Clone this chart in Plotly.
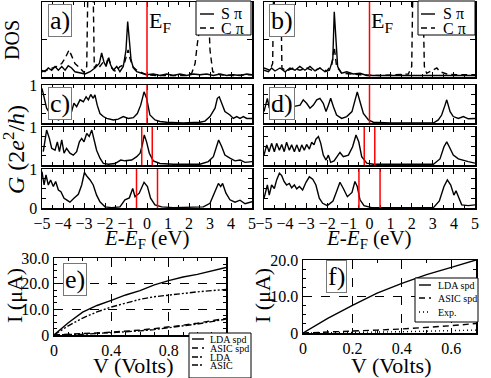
import plotly.graph_objects as go

W, H = 491, 378
SERIF = "Liberation Serif, Times New Roman, serif"

# ---------------- data ----------------
# DOS, panel a)
E_a_S = [-5.0, -4.86, -4.70, -4.54, -4.38, -4.22, -4.06, -3.90, -3.75, -3.59, -3.43, -3.19, -2.95, -2.71,
         -2.48, -2.27, -2.16, -2.05, -1.95, -1.84, -1.73, -1.60, -1.44, -1.29, -1.13, -1.00, -0.92, -0.84,
         -0.76, -0.65, -0.49, -0.25, -0.02, 0.30, 0.62, 0.94, 1.25, 1.57, 1.89, 2.21, 2.52, 2.84, 3.16,
         3.48, 3.79, 4.11, 4.43, 4.75, 5.0]
D_a_S = [0.09, 0.07, 0.12, 0.09, 0.14, 0.09, 0.14, 0.09, 0.15, 0.12, 0.07, 0.05, 0.04, 0.07,
         0.12, 0.18, 0.32, 0.20, 0.14, 0.25, 0.16, 0.09, 0.14, 0.07, 0.14, 0.36, 0.74, 0.49,
         0.23, 0.12, 0.07, 0.05, 0.03, 0.04, 0.02, 0.04, 0.02, 0.04, 0.02, 0.04, 0.03, 0.04, 0.02,
         0.04, 0.02, 0.03, 0.02, 0.04, 0.03]
E_a_C = [-5.0, -4.78, -4.54, -4.30, -4.06, -3.90, -3.71, -3.59, -3.43, -3.19, -3.0, -2.87, -2.81, -2.57,
         -2.51, -2.37, -2.24, -2.08, -1.95, -1.84, -1.68, -1.48, -1.29, -1.10, -0.97, -0.90, -0.81,
         -0.68, -0.49, -0.25, -0.02, 0.46, 1.25, 1.89, 2.13, 2.29, 2.40, 2.52, 2.63, 2.87, 3.0, 3.13,
         3.48, 4.11, 5.0]
D_a_C = [0.07, 0.09, 0.12, 0.14, 0.18, 0.25, 0.36, 0.29, 0.18, 0.12, 0.06, 0.14, 1.3, 1.3,
         0.12, 0.18, 0.14, 0.20, 0.16, 0.27, 0.12, 0.07, 0.14, 0.16, 0.27, 0.36, 0.25,
         0.14, 0.09, 0.06, 0.03, 0.02, 0.02, 0.02, 0.05, 0.18, 0.45, 0.67, 1.3, 1.3, 0.36, 0.07,
         0.03, 0.02, 0.03]

# DOS, panel b)
E_b_S = [-5.0, -4.79, -4.64, -4.48, -4.24, -4.00, -3.77, -3.53, -3.30, -3.06, -2.82, -2.58, -2.35, -2.11,
         -1.90, -1.74, -1.67, -1.59, -1.51, -1.32, -1.08, -0.77, -0.45, -0.13, 0.50, 1.76, 2.71, 3.34,
         4.13, 5.0]
D_b_S = [0.09, 0.07, 0.12, 0.08, 0.12, 0.07, 0.12, 0.09, 0.14, 0.09, 0.14, 0.08, 0.12, 0.07,
         0.09, 0.23, 0.87, 0.49, 0.14, 0.05, 0.07, 0.04, 0.05, 0.02, 0.02, 0.02, 0.03, 0.02,
         0.02, 0.02]
E_b_C = [-5.0, -4.72, -4.59, -4.54, -4.21, -4.15, -3.93, -3.61, -3.30, -2.98, -2.66, -2.35, -2.03, -1.79,
         -1.67, -1.56, -1.32, -0.92, -0.45, 0.50, 1.45, 1.84, 2.00, 2.06, 2.52, 2.60, 2.71, 2.95,
         3.19, 3.34, 3.66, 4.13, 5.0]
D_b_C = [0.12, 0.09, 0.18, 1.3, 1.3, 0.12, 0.08, 0.12, 0.09, 0.12, 0.08, 0.12, 0.08, 0.16,
         0.40, 0.14, 0.05, 0.04, 0.03, 0.02, 0.03, 0.04, 0.14, 1.3, 1.3, 0.14, 0.05, 0.09,
         0.12, 0.07, 0.04, 0.03, 0.03]

# Transmission, panel c) (three bias values)
E_c1 = [-5.0, -4.90, -4.78, -4.62, -4.46, -4.22, -4.06, -3.83, -3.59, -3.48, -3.35, -3.19, -3.03, -2.90,
        -2.79, -2.68, -2.56, -2.48, -2.37, -2.24, -2.08, -1.92, -1.60, -1.37, -1.13, -0.89, -0.65,
        -0.46, -0.30, -0.14, -0.02, 0.14, 0.38, 0.62, 0.94, 1.73, 2.52, 2.76, 3.00, 3.24, 3.35, 3.44,
        3.56, 3.71, 3.95, 4.11, 4.27, 4.43, 4.59, 4.75, 5.0]
G_c1 = [0.91, 0.65, 0.39, 0.25, 0.17, 0.08, 0.12, 0.21, 0.30, 0.52, 0.43, 0.61, 0.56, 0.69,
        0.61, 0.75, 0.65, 0.74, 0.47, 0.25, 0.17, 0.12, 0.08, 0.10, 0.17, 0.12, 0.14,
        0.25, 0.47, 0.82, 0.65, 0.21, 0.08, 0.04, 0.02, 0.0, 0.02, 0.05, 0.17, 0.39, 0.65, 0.69,
        0.52, 0.30, 0.21, 0.12, 0.17, 0.12, 0.17, 0.12, 0.12]
E_c2 = [-4.94, -4.86, -4.78, -4.65, -4.54, -4.38, -4.27, -4.17, -4.06, -3.95, -3.83, -3.67, -3.51, -3.35,
        -3.22, -3.11, -3.00, -2.87, -2.75, -2.63, -2.52, -2.40, -2.24, -2.08, -1.84, -1.52, -1.25,
        -1.05, -0.73, -0.49, -0.33, -0.22, -0.13, -0.02, 0.11, 0.30, 0.62, 1.25, 2.52, 2.92, 3.16,
        3.32, 3.41, 3.56, 3.71, 3.95, 4.19, 4.43, 4.67, 5.0]
G_c2 = [0.35, 0.70, 0.92, 0.70, 0.44, 0.39, 0.61, 0.35, 0.66, 0.31, 0.44, 0.31, 0.26, 0.35,
        0.61, 0.70, 0.61, 0.83, 0.75, 0.92, 0.66, 0.39, 0.18, 0.04, 0.02, 0.04, 0.13,
        0.11, 0.13, 0.22, 0.31, 0.53, 0.79, 0.61, 0.31, 0.11, 0.04, 0.02, 0.02, 0.09, 0.22,
        0.53, 0.66, 0.48, 0.26, 0.18, 0.11, 0.13, 0.07, 0.09]
E_c3 = [-5.0, -4.90, -4.81, -4.70, -4.59, -4.46, -4.35, -4.22, -4.10, -3.95, -3.83, -3.67, -3.48, -3.27,
        -3.11, -2.98, -2.84, -2.71, -2.56, -2.40, -2.24, -2.00, -1.68, -1.29, -1.05, -0.84, -0.68,
        -0.57, -0.37, -0.14, 0.02, 0.17, 0.38, 0.70, 1.25, 2.68, 3.00, 3.24, 3.40, 3.51, 3.60, 3.76,
        3.95, 4.19, 4.43, 4.67, 5.0]
G_c3 = [0.93, 0.59, 0.85, 0.59, 0.72, 0.55, 0.68, 0.46, 0.42, 0.25, 0.21, 0.15, 0.25, 0.35,
        0.59, 0.91, 0.80, 0.72, 0.59, 0.33, 0.16, 0.03, 0.01, 0.03, 0.21, 0.26, 0.50,
        0.29, 0.38, 0.66, 0.55, 0.25, 0.08, 0.03, 0.01, 0.03, 0.12, 0.42, 0.63, 0.55, 0.63, 0.38,
        0.21, 0.15, 0.20, 0.11, 0.16]

# Transmission, panel d)
E_d1 = [-5.0, -4.84, -4.75, -4.64, -4.48, -4.08, -3.61, -3.29, -3.14, -2.98, -2.82, -2.66, -2.50, -2.35,
        -2.19, -2.06, -1.95, -1.84, -1.71, -1.56, -1.32, -1.08, -0.83, -0.69, -0.58, -0.45, -0.29,
        -0.05, 0.18, 0.97, 3.03, 3.26, 3.42, 3.58, 3.66, 3.82, 3.97, 4.21, 4.45, 4.68, 5.0]
G_d1 = [0.30, 0.65, 0.39, 0.61, 0.47, 0.47, 0.43, 0.47, 0.61, 0.52, 0.39, 0.47, 0.61, 0.65,
        0.52, 0.30, 0.47, 0.65, 0.43, 0.21, 0.12, 0.17, 0.30, 0.56, 0.82, 0.56, 0.25,
        0.08, 0.02, 0.0, 0.0, 0.08, 0.21, 0.47, 0.61, 0.30, 0.17, 0.12, 0.17, 0.11, 0.12]
E_d2 = [-5.0, -4.87, -4.76, -4.64, -4.51, -4.40, -4.27, -4.16, -4.04, -3.93, -3.80, -3.69, -3.56, -3.45,
        -3.32, -3.21, -3.09, -2.98, -2.85, -2.74, -2.63, -2.54, -2.42, -2.31, -2.19, -2.06, -1.95,
        -1.84, -1.68, -1.52, -1.40, -1.24, -1.00, -0.80, -0.64, -0.51, -0.37, -0.13, 0.18, 3.03,
        3.34, 3.53, 3.66, 3.78, 3.97, 4.21, 4.45, 4.68, 5.0]
G_d2 = [0.26, 0.53, 0.35, 0.57, 0.35, 0.57, 0.39, 0.54, 0.35, 0.60, 0.39, 0.53, 0.35, 0.53,
        0.35, 0.53, 0.39, 0.54, 0.42, 0.60, 0.53, 0.68, 0.75, 0.57, 0.26, 0.13, 0.26,
        0.07, 0.11, 0.22, 0.33, 0.22, 0.26, 0.48, 0.79, 0.61, 0.22, 0.05, 0.02, 0.02,
        0.16, 0.48, 0.61, 0.48, 0.26, 0.16, 0.12, 0.09, 0.05]
E_d3 = [-5.0, -4.84, -4.75, -4.64, -4.51, -4.40, -4.27, -4.16, -4.05, -3.93, -3.80, -3.69, -3.56, -3.45,
        -3.32, -3.17, -3.01, -2.85, -2.69, -2.54, -2.38, -2.22, -2.00, -1.73, -1.56, -1.40, -1.24,
        -1.05, -0.83, -0.69, -0.58, -0.45, -0.26, 0.10, 3.03, 3.31, 3.53, 3.69, 3.85, 4.00, 4.10,
        4.21, 4.37, 4.68, 5.0]
G_d3 = [0.25, 0.59, 0.33, 0.59, 0.50, 0.72, 0.89, 0.83, 0.68, 0.59, 0.63, 0.52, 0.59, 0.49,
        0.55, 0.46, 0.66, 0.80, 0.74, 0.59, 0.25, 0.12, 0.06, 0.18, 0.42, 0.66, 0.50,
        0.29, 0.40, 0.68, 0.55, 0.21, 0.06, 0.01, 0.01, 0.18, 0.55, 0.72, 0.59, 0.33, 0.44,
        0.29, 0.08, 0.06, 0.08]

half_bias = [0.0, 0.25, 0.5]   # bias window edges for the three transmission rows (eV)

# I-V, panel e)
V_e = [0, 0.1, 0.2, 0.3, 0.4, 0.5, 0.6, 0.7, 0.8, 0.9, 1.0, 1.1, 1.2]
I_e_lda_spd = [0, 4.8, 8.9, 11.5, 13.5, 15.6, 17.3, 19.5, 21.2, 22.6, 23.6, 24.9, 26.3]
I_e_asic_spd = [0, 0.2, 0.5, 0.8, 1.1, 1.4, 1.9, 2.5, 3.1, 3.8, 4.6, 5.5, 6.5]
I_e_lda = [0, 3.6, 6.6, 9.0, 10.9, 12.5, 13.9, 14.9, 15.6, 16.3, 16.8, 17.3, 17.7]
I_e_asic = [0, 0.1, 0.3, 0.6, 0.9, 1.2, 1.6, 2.1, 2.8, 3.5, 4.3, 5.2, 6.2]

# I-V, panel f)
V_f = [0, 0.1, 0.2, 0.3, 0.4, 0.5, 0.6, 0.7]
I_f_lda_spd = [0, 4.0, 7.6, 10.9, 13.6, 16.0, 18.0, 20.0]
I_f_asic_spd = [0, 0.2, 0.5, 0.8, 1.1, 1.5, 2.0, 2.6]
I_f_exp = [0, 0.05, 0.15, 0.25, 0.35, 0.5, 0.65, 0.8]

DOS_names = ["S \u03c0", "C \u03c0"]
E_names = ["LDA spd", "ASIC spd", "LDA", "ASIC"]
F_names = ["LDA spd", "ASIC spd", "Exp."]


# ---------------- layout helpers ----------------
def xd(a, b):
    return [a / W, b / W]


def yd(top, bottom):
    return [1 - bottom / H, 1 - top / H]


def px(x):
    return x / W


def py(y):
    return 1 - y / H


tickfont = dict(family=SERIF, size=16, color="black")
base = dict(showline=True, linecolor="black", linewidth=1.5, mirror="ticks", ticks="inside",
            ticklen=5, tickwidth=1, tickcolor="black", showgrid=False, zeroline=False,
            tickfont=tickfont)

fig = go.Figure()

LEFT = (42, 252)
RIGHT = (264, 475)
ROWS = [(85, 123), (127, 165), (169, 208)]

axes = {}
axes["a"] = dict(x=xd(*LEFT), y=yd(2, 77))
axes["b"] = dict(x=xd(*RIGHT), y=yd(2, 77))
for i, r in enumerate(ROWS):
    axes["c%d" % (i + 1)] = dict(x=xd(*LEFT), y=yd(*r))
    axes["d%d" % (i + 1)] = dict(x=xd(*RIGHT), y=yd(*r))
axes["e"] = dict(x=xd(54, 226), y=yd(258, 335))
axes["f"] = dict(x=xd(303, 476), y=yd(260, 333))

order = ["a", "b", "c1", "c2", "c3", "d1", "d2", "d3", "e", "f"]
ax_id = {k: i + 1 for i, k in enumerate(order)}


def xa(k):
    n = ax_id[k]
    return "x" if n == 1 else "x%d" % n


def ya(k):
    n = ax_id[k]
    return "y" if n == 1 else "y%d" % n


def lname(k, axis):
    n = ax_id[k]
    return axis + ("axis" if n == 1 else "axis%d" % n)


LW = 1.4
DASH = "6px,4px"
SOLID = "solid"
DASHDOTDOT = "6px,2px,2px,2px,2px,2px"
DASHDOT = "6px,2px,2px,2px"
DOT = "1px,3px"


def line_trace(x, y, k, dash=SOLID):
    return go.Scatter(x=x, y=y, mode="lines", line=dict(color="black", width=LW, dash=dash),
                      xaxis=xa(k), yaxis=ya(k), showlegend=False, hoverinfo="skip")


# DOS
fig.add_trace(line_trace(E_a_S, D_a_S, "a"))
fig.add_trace(line_trace(E_a_C, D_a_C, "a", DASH))
fig.add_trace(line_trace(E_b_S, D_b_S, "b"))
fig.add_trace(line_trace(E_b_C, D_b_C, "b", DASH))

# transmission
G_sets = {"c1": (E_c1, G_c1), "c2": (E_c2, G_c2), "c3": (E_c3, G_c3),
          "d1": (E_d1, G_d1), "d2": (E_d2, G_d2), "d3": (E_d3, G_d3)}
for k, (ex, gy) in G_sets.items():
    fig.add_trace(line_trace(ex, gy, k))

# I-V
fig.add_trace(line_trace(V_e, I_e_lda_spd, "e"))
fig.add_trace(line_trace(V_e, I_e_asic_spd, "e", DASH))
fig.add_trace(line_trace(V_e, I_e_lda, "e", DASHDOTDOT))
fig.add_trace(line_trace(V_e, I_e_asic, "e", DASHDOT))
fig.add_trace(line_trace(V_f, I_f_lda_spd, "f"))
fig.add_trace(line_trace(V_f, I_f_asic_spd, "f", DASH))
fig.add_trace(line_trace(V_f, I_f_exp, "f", DOT))

layout = {}
gridstyle = dict(showgrid=True, griddash="dash", gridcolor="black", gridwidth=1)
for k in order:
    xax = dict(base, domain=axes[k]["x"], anchor=ya(k))
    yax = dict(base, domain=axes[k]["y"], anchor=xa(k))
    if k in ("a", "b") or k[0] in "cd":
        xax.update(range=[-5, 5], dtick=1, tick0=-5, showticklabels=k in ("c3", "d3"),
                   minor=dict(ticks="inside", ticklen=3, dtick=0.5, tickcolor="black"))
    if k in ("a", "b"):
        yax.update(range=[0, 1], tickvals=[0.5], showticklabels=False)
    elif k[0] in "cd":
        yax.update(range=[0, 1], tickvals=[0, 0.25, 0.5, 0.75, 1],
                   ticktext=["0" if k == "c3" else " ", " ", " ", " ", "1"],
                   showticklabels=k[0] == "c", ticklen=4)
    if k == "e":
        xax.update(gridstyle, range=[0, 1.2], tickvals=[0, 0.4, 0.8], ticktext=["0", "0.4", "0.8"],
                   minor=dict(ticks="inside", ticklen=3, dtick=0.1, tickcolor="black"))
        yax.update(gridstyle, range=[0, 30], tickvals=[0, 10, 20, 30], ticktext=["0", "10.0", "20.0", "30.0"],
                   minor=dict(ticks="inside", ticklen=3, dtick=2.5, tickcolor="black"))
    if k == "f":
        xax.update(gridstyle, range=[0, 0.7], tickvals=[0, 0.2, 0.4, 0.6], ticktext=["0", "0.2", "0.4", "0.6"],
                   minor=dict(ticks="inside", ticklen=3, dtick=0.1, tickcolor="black"))
        yax.update(gridstyle, range=[0, 20], tickvals=[0, 10, 20], ticktext=["0", "10.0", "20.0"],
                   minor=dict(ticks="inside", ticklen=3, dtick=2.5, tickcolor="black"))
    layout[lname(k, "x")] = xax
    layout[lname(k, "y")] = yax

# red Fermi level / bias window lines
shapes = []
for k in ("a", "b"):
    shapes.append(dict(type="line", xref=xa(k), yref=ya(k) + " domain", x0=0, x1=0, y0=0, y1=1,
                       line=dict(color="red", width=1.5)))
for i, hb in enumerate(half_bias):
    for side in "cd":
        k = "%s%d" % (side, i + 1)
        for e0 in sorted({-hb, hb}):
            shapes.append(dict(type="line", xref=xa(k), yref=ya(k) + " domain", x0=e0, x1=e0, y0=0, y1=1,
                               line=dict(color="red", width=1.5)))

ann = []


def label(txt, x, y, size, **kw):
    d = dict(text=txt, x=px(x), y=py(y), xref="paper", yref="paper", showarrow=False,
             font=dict(family=SERIF, size=size, color="black"), xanchor="center", yanchor="middle")
    d.update(kw)
    ann.append(d)


# legends drawn as boxes with sample lines
def legend_box(x0, y0, x1, y1, names, dashes, rows, lx0, lx1, tx, size):
    shapes.append(dict(type="rect", xref="paper", yref="paper", x0=px(x0), x1=px(x1), y0=py(y1), y1=py(y0),
                       fillcolor="white", line=dict(color="black", width=1), layer="above"))
    for name, dash, ry in zip(names, dashes, rows):
        shapes.append(dict(type="line", xref="paper", yref="paper", x0=px(lx0), x1=px(lx1), y0=py(ry), y1=py(ry),
                           line=dict(color="black", width=LW, dash=dash), layer="above"))
        label(name, tx, ry, size, xanchor="left")


legend_box(196, 1, 251, 35, DOS_names, [SOLID, DASH], [14, 28], 200, 214, 219, 16)
legend_box(418, 1, 475, 35, DOS_names, [SOLID, DASH], [14, 28], 421, 435, 441, 16)
legend_box(189, 333, 251, 378, E_names, [SOLID, DASH, DASHDOTDOT, DASHDOT], [339, 348, 357, 365], 192, 204, 208, 10)
legend_box(415, 278, 478, 322, F_names, [SOLID, DASH, DOT], [285, 298, 312], 419, 431, 436, 10)

for t, x, y in [("a)", 60, 20), ("b)", 282, 20), ("c)", 60, 103), ("d)", 282, 103),
                ("e)", 75, 279), ("f)", 336, 276)]:
    label(t, x, y, 26, bordercolor="#777777", borderwidth=1, borderpad=1, bgcolor="white")

label("E<sub>F</sub>", 160, 22, 22)
label("E<sub>F</sub>", 382, 22, 22)
label("DOS", 12, 40, 20, textangle=-90)
label("<i>G</i> (2<i>e</i><sup>2</sup>/<i>h</i>)", 14, 150, 24, textangle=-90)
label("<i>E</i>-<i>E</i><sub>F</sub> (eV)", 147, 239, 21)
label("<i>E</i>-<i>E</i><sub>F</sub> (eV)", 369, 239, 21)
label("I (\u03bcA)", 14, 296, 22, textangle=-90)
label("I (\u03bcA)", 262, 296, 22, textangle=-90)
label("V (Volts)", 133, 365, 22)
label("V (Volts)", 391, 365, 22)

layout.update(
    width=W, height=H, margin=dict(l=0, r=0, t=0, b=0, autoexpand=False),
    paper_bgcolor="white", plot_bgcolor="white", showlegend=False,
    shapes=shapes, annotations=ann,
)
fig.update_layout(layout)

fig.write_html("out.html", config={"displayModeBar": False, "staticPlot": True},
               post_script="document.body.style.margin='0';document.body.style.overflow='hidden';")
